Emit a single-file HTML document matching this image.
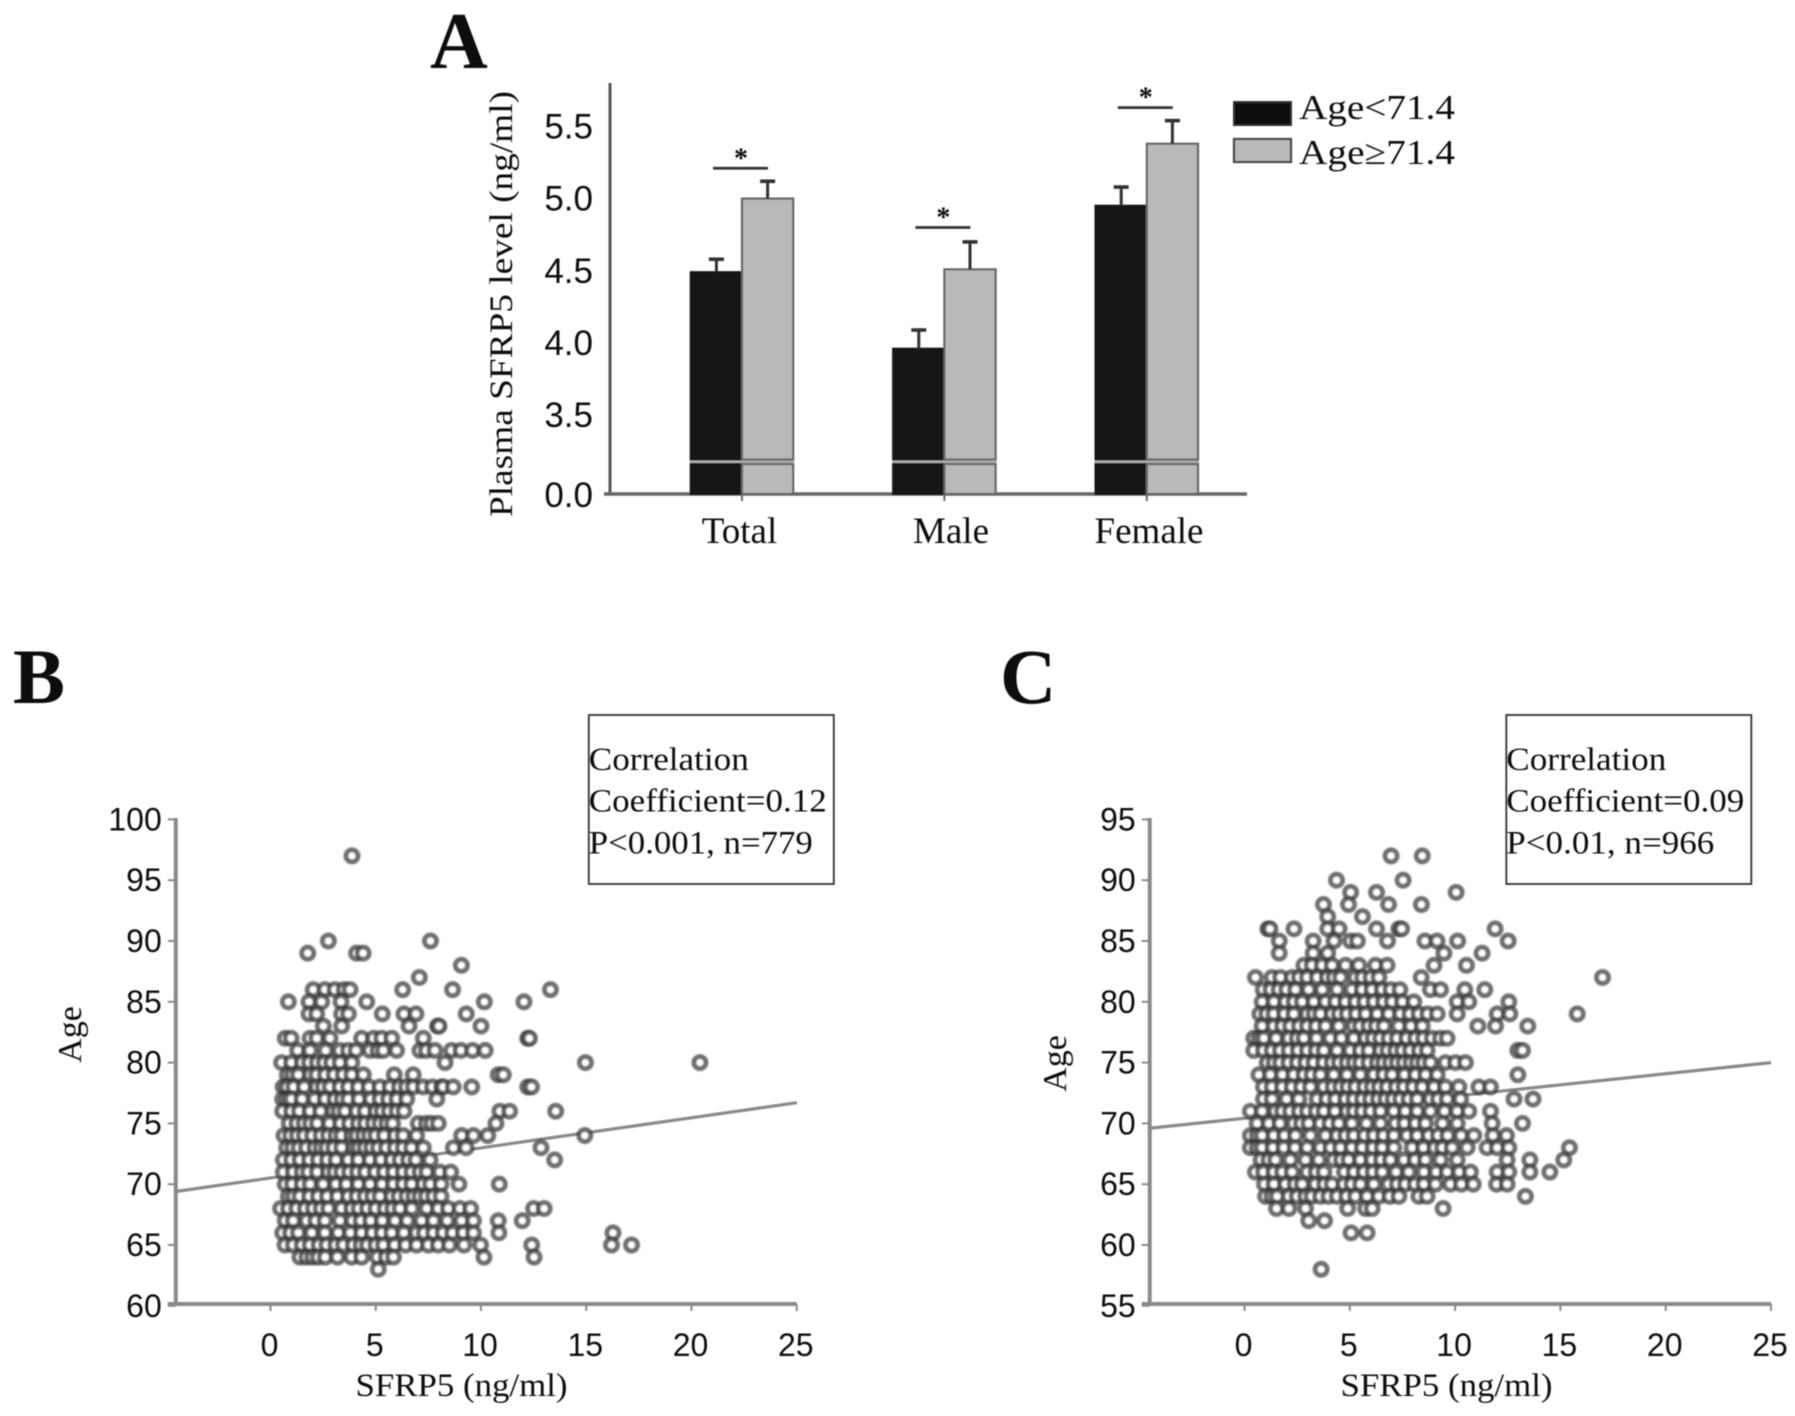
<!DOCTYPE html>
<html lang="en">
<head>
<meta charset="utf-8">
<title>Plasma SFRP5 level by age and correlation plots</title>
<style>
html,body{margin:0;padding:0;background:#fff;}
svg{display:block;}
text{font-family:"Liberation Serif",serif;fill:#111;}
.sans{font-family:"Liberation Sans",sans-serif;fill:#111;}
</style>
</head>
<body>
<svg id="figure" xmlns="http://www.w3.org/2000/svg" width="1795" height="1416" viewBox="0 0 1795 1416">
<defs>
<filter id="soft" x="-2%" y="-2%" width="104%" height="104%"><feGaussianBlur stdDeviation="0.6"/></filter>
<filter id="softer" x="-2%" y="-2%" width="104%" height="104%"><feGaussianBlur stdDeviation="0.9"/></filter>
</defs>
<g id="root" filter="url(#soft)"></g>
</svg>
<script>
// Panel A data
const barCategories = ['Total', 'Male', 'Female'];
const youngMeans = [4.49, 3.96, 4.95];
const oldMeans = [5.0, 4.51, 5.38];
const youngErrorTops = [4.58, 4.09, 5.08];
const oldErrorTops = [5.12, 4.70, 5.54];
const significanceLevels = [5.21, 4.80, 5.63];
const barTicks = [5.5, 5.0, 4.5, 4.0, 3.5];
const barZeroTick = 0.0;

// Panel B data: one list of SFRP5 values per age row
const panelBAges = [97,90,89,88,87,86,85,84,83,82,81,80,79,78,77,76,75,74,73,72,71,70,69,68,67,66,65,64,63];
const panelBSfrp5 = [
[3.87],
[2.75,7.6],
[1.77,4.09,4.4],
[9.07],
[7.07],
[2.03,2.59,3.06,3.5,3.78,6.28,8.65,13.3],
[.85,1.83,2.43,3.35,4.57,10.16,12.04],
[1.83,2.19,3.38,3.7,5.31,6.34,6.91,9.3],
[2.51,3.38,6.58,7.94,8.0,10.0],
[.7,.98,1.88,2.2,2.83,4.33,4.9,5.28,5.76,7.26,12.22,12.3],
[1.29,1.88,2.62,3.3,3.7,4.06,4.73,5.1,5.36,5.99,7.1,7.4,7.81,8.6,9.05,9.6,10.2],
[.53,1.0,1.51,1.85,2.22,2.55,2.9,3.3,3.86,8.29,14.96,20.4],
[.8,1.05,1.32,1.9,2.19,2.6,3.02,3.45,3.86,4.41,5.88,6.78,10.82,11.06],
[.6,.8,1.1,1.6,2.2,2.5,2.83,3.3,3.7,4.17,4.68,5.2,5.68,6.12,6.45,6.78,7.26,7.69,8.13,8.2,8.68,9.56,12.22,12.4],
[.58,.8,1.0,1.5,2.1,2.6,3.06,3.4,3.7,4.2,4.77,5.2,5.6,6.0,6.47,7.9],
[.58,1,1.37,1.88,2.38,2.98,3.25,3.54,4.09,4.49,5,5.3,5.64,6,6.34,10.9,11.36,13.55],
[.89,1.25,1.59,1.9,2.22,2.8,3.33,3.75,4.17,4.5,4.88,5.2,5.52,5.8,7.02,7.4,7.66,7.97,10.71],
[.64,.95,1.27,1.6,1.99,2.4,2.75,3.1,3.38,3.86,4.1,4.41,4.7,5,5.4,5.92,6.3,6.94,9.08,9.64,10.32,14.93],
[.77,1.05,1.35,1.7,2.11,2.4,2.67,3,3.38,3.97,4.2,4.49,4.8,5.12,5.5,5.92,6.3,6.7,7.26,8.69,9.29,12.85],
[.61,1,1.4,1.85,2.27,2.7,3.11,3.7,4.17,4.73,5.25,5.76,6.15,6.55,6.9,7.58,13.5],
[.61,1.08,1.5,1.8,2.22,2.75,3.05,3.38,3.75,4.13,4.5,4.97,5.4,5.84,6.3,6.71,7.1,7.42,8.05,8.56],
[.7,1.04,1.5,1.88,2.5,3.11,3.6,4.17,4.73,5.3,5.84,6.3,6.71,7.26,7.6,8.1,8.95,10.87],
[.85,1.1,1.4,1.85,2.27,2.7,3.18,3.7,4.1,4.49,4.85,5.2,5.76,6.1,6.47,6.8,7.1,7.4,7.74,8.1],
[.48,.85,1.24,1.65,2.03,2.4,2.75,3.38,3.86,4.2,4.6,5,5.44,5.8,6.15,6.71,7.42,7.97,8.45,9,9.51,12.5,13.0],
[.7,1.08,1.72,2.15,2.59,3.3,3.9,4.3,4.76,5.31,5.92,6.5,7.18,7.74,8.4,9.08,9.64,10.82,11.96],
[.58,.95,1.32,1.96,2.59,3.22,3.8,4.33,4.84,5.3,5.76,6.34,6.94,7.3,7.74,8.2,8.65,9.16,9.64,10.85,16.27],
[.69,1.08,1.5,1.88,2.3,2.67,3.1,3.46,3.93,4.3,4.6,5,5.36,5.9,6.42,6.94,7.5,7.97,8.5,9.19,9.98,12.41,16.2,17.15],
[1.4,1.72,2,2.27,2.6,3.18,3.86,4.33,5.08,5.5,5.84,10.14,12.52],
[5.12]
];
const panelBFitAges = [69.4, 76.7];

// Panel C data: one list of SFRP5 values per age row
const panelCAges = [92,90,89,88,87,86,85,84,83,82,81,80,79,78,77,76,75,74,73,72,71,70,69,68,67,66,65,64,63,62,61,58];
const panelCSfrp5 = [
[6.96,8.44],
[4.37,7.53],
[5.04,6.27,10.05],
[3.75,4.94,6.84,8.4],
[3.95,5.6],
[1.11,1.21,2.35,3.95,4.49,6.27,7.33,7.46,11.9],
[1.65,3.26,4.25,5.04,5.36,6.79,8.57,9.14,10.12,12.52],
[1.65,3.26,3.95,9.47,11.28],
[2.82,3.21,3.69,4.16,4.8,5.43,6.22,6.77,9.0,10.54],
[.52,1.31,1.71,2.26,2.6,2.98,3.45,3.93,4.25,4.56,5.27,5.6,6.0,6.38,8.39,17.0],
[.89,1.25,1.63,2.0,2.42,3.05,3.69,4.4,5.1,5.59,6.05,6.54,6.95,7.38,8.83,9.31,10.46,11.41],
[.84,1.4,1.95,2.35,2.74,3.29,3.85,4.32,4.8,5.27,5.7,6.14,6.6,7.01,7.5,8.04,10.1,10.65,12.55],
[.73,1.05,1.39,1.9,2.34,2.98,3.3,3.61,4.16,4.5,4.87,5.3,5.75,6.3,6.85,7.41,7.85,8.28,8.7,9.15,10.1,12.0,12.6,15.8],
[.84,1.39,1.8,2.18,2.6,2.98,3.4,3.85,4.48,5.19,5.5,5.9,6.25,6.62,7.33,7.9,8.44,11.08,11.92,13.45],
[.44,.7,.92,1.5,2.11,2.5,2.82,3.42,4.08,4.6,5.19,5.75,6.1,6.46,6.85,7.25,7.7,8.12,8.5,8.91,9.3,9.62],
[.44,.9,1.31,1.7,2.11,2.55,2.98,3.4,3.77,4.4,5.03,5.5,5.9,6.46,6.8,7.17,7.5,7.88,8.3,8.67,12.98,13.2],
[1.08,1.4,1.71,2.1,2.5,2.9,3.29,3.75,4.16,4.5,4.87,5.2,5.51,5.9,6.3,6.6,6.93,7.25,7.57,7.9,8.2,8.5,8.83,9.54,10.02,10.49],
[.68,1.23,1.8,2.34,2.82,3.2,3.61,4.24,4.87,5.5,6.14,6.6,7.01,7.6,8.12,8.6,9.15,12.98],
[.9,1.31,1.8,2.26,2.7,3.13,3.77,4.2,4.56,4.9,5.27,5.7,6.06,6.4,6.77,7.2,7.57,8.0,8.44,9,9.54,10.18,11.13,11.68],
[.9,1.31,2,2.58,3.45,3.9,4.32,4.8,5.19,5.6,5.98,6.35,6.7,7.05,7.41,7.8,8.2,8.83,9.2,9.62,10.26,12.8,13.7],
[.28,.84,1.47,1.8,2.18,2.6,2.98,3.4,3.77,4.3,4.87,5.2,5.59,6,6.46,7.09,7.64,8.2,8.83,9.5,10.1,10.65,11.68],
[.6,1.16,1.68,2.34,2.7,3.05,3.61,4.05,4.48,5.1,5.79,6.46,7.17,7.6,8.12,8.59,9.4,10.1,11.76,13.2],
[.28,.6,.84,1.39,1.9,2.42,3.13,3.85,4.4,4.8,5.19,5.7,6.14,6.6,7.09,7.72,8.2,8.75,9.2,9.65,10.29,10.89,11.8,12.44],
[.28,.6,.84,1.35,1.87,2.4,2.98,3.61,4.1,4.56,5.1,5.59,6.1,6.54,7.09,7.96,8.5,9.04,9.4,9.86,10.57,11.52,12,12.55,15.43],
[.79,1.15,1.47,2.18,2.9,3.53,4.24,4.6,4.95,5.5,6.06,6.5,6.93,7.57,8.1,8.59,9.31,10.1,12.47,13.55,15.16],
[.52,.9,1.39,1.8,2.26,2.98,3.4,3.77,4.75,5.2,5.67,6.1,6.54,7.2,7.8,8.52,9.1,9.62,10.2,10.73,12,12.55,13.55,14.5],
[.95,1.4,1.95,2.4,2.74,3.37,3.8,4.16,4.72,5.1,5.51,6.14,6.85,7.25,7.64,8.1,8.52,9.07,9.78,10.3,10.86,11.97,12.47],
[1,1.3,1.55,2.11,2.5,2.9,3.2,3.61,4,4.4,4.85,5.27,5.82,6.38,6.9,7.33,8.28,8.67,13.34],
[1.52,2.11,2.9,4.9,5.75,6.06,9.43],
[3.05,3.8],
[5.06,5.82],
[3.64]
];
const panelCFitAges = [69.6, 75.0];

const scatterXTicks = [0, 5, 10, 15, 20, 25];
const panelBYTicks = [100, 95, 90, 85, 80, 75, 70, 65, 60];
const panelCYTicks = [95, 90, 85, 80, 75, 70, 65, 60, 55];
const fitXRange = [-4.5, 25];

const NS = 'http://www.w3.org/2000/svg';
const root = document.getElementById('root');

function mk(tag, name, attrs, parent) {
  const el = document.createElementNS(NS, tag);
  
  
  for (const k in attrs) el.setAttribute(k, attrs[k]);
  (parent || root).appendChild(el);
  return el;
}
function line(name, x1, y1, x2, y2, color, w, parent) {
  return mk('line', name, {x1: x1, y1: y1, x2: x2, y2: y2, stroke: color, 'stroke-width': w}, parent);
}
function label(name, str, x, y, size, anchor, opts, parent) {
  const a = Object.assign({x: x, y: y, 'font-size': size, 'text-anchor': anchor}, opts || {});
  const el = mk('text', name, a, parent);
  el.textContent = str;
  return el;
}

/* ---------- Panel A ---------- */
const barY = v => 198.6 + (5 - v) * 144.4;
const barBaseY = 494;
const breakTop = 459.5, breakBottom = 464;
const groupLeft = i => 690.8 + i * 202.4;
const barWidth = 51.2;

label('panel-a-letter', 'A', 430, 68, 80, 'start', {'font-weight': 'bold', fill: '#000'});

line('bar-y-axis', 610, 83, 610, barBaseY, '#555', 3);
line('bar-x-axis', 604, barBaseY, 1247, barBaseY, '#666', 3.5);
barTicks.forEach(t => {
  label('bar-y-tick-label', t.toFixed(1), 593, barY(t) + 12, 35, 'end', {class: 'sans'});
});
label('bar-y-tick-label', barZeroTick.toFixed(1), 593, barBaseY + 13, 35, 'end', {class: 'sans'});
label('bar-y-axis-title', 'Plasma SFRP5 level (ng/ml)', 0, 0, 33, 'middle',
  {transform: 'translate(512,304) rotate(-90)', textLength: 426, lengthAdjust: 'spacingAndGlyphs', fill: '#222'});

function drawBar(name, x, v, errTop, fill, edge) {
  const top = barY(v);
  mk('rect', name + '-upper', {x: x, y: top, width: barWidth, height: breakTop - top, fill: fill, stroke: edge, 'stroke-width': 2.2});
  mk('rect', name + '-lower', {x: x, y: breakBottom, width: barWidth, height: barBaseY - breakBottom, fill: fill, stroke: edge, 'stroke-width': 2.2});
  mk('rect', name + '-break', {x: x - 1, y: breakTop + 1, width: barWidth + 2, height: breakBottom - breakTop - 2, fill: '#aaa'});
  const cx = x + barWidth / 2;
  line(name + '-error-stem', cx, top, cx, barY(errTop), '#333', 3);
  line(name + '-error-cap', cx - 7.5, barY(errTop), cx + 7.5, barY(errTop), '#333', 3.6);
}
barCategories.forEach((cat, i) => {
  const x0 = groupLeft(i);
  drawBar('bar-young-' + cat.toLowerCase(), x0, youngMeans[i], youngErrorTops[i], '#141414', '#141414');
  drawBar('bar-old-' + cat.toLowerCase(), x0 + barWidth, oldMeans[i], oldErrorTops[i], '#b9b9b9', '#666');
  const mid = x0 + barWidth;
  line('bar-x-tick', mid, barBaseY, mid, barBaseY + 7, '#666', 2);
  const sy = barY(significanceLevels[i]);
  line('significance-line', mid - 29, sy, mid + 26, sy, '#333', 2.8);
  label('significance-star', '*', mid - 1, sy - 1, 28, 'middle', {fill: '#111', 'font-weight': 'bold'});
});
const catCenters = [739.5, 951, 1149];
barCategories.forEach((cat, i) => {
  label('bar-category-label', cat, catCenters[i], 543, 37, 'middle', {});
});

mk('rect', 'legend-swatch-young', {x: 1234, y: 102, width: 57, height: 23, fill: '#111', stroke: '#333', 'stroke-width': 2});
mk('rect', 'legend-swatch-old', {x: 1234, y: 139, width: 57, height: 23, fill: '#b9b9b9', stroke: '#444', 'stroke-width': 2.2});
label('legend-label-young', 'Age<71.4', 1299, 119, 35, 'start', {textLength: 156, lengthAdjust: 'spacingAndGlyphs'});
label('legend-label-old', 'Age≥71.4', 1299, 164, 35, 'start', {textLength: 156, lengthAdjust: 'spacingAndGlyphs'});

/* ---------- Scatter panels ---------- */
function drawScatter(cfg) {
  const xScale = v => cfg.x0 + cfg.xPerUnit * v;
  const yScale = a => 1305.8 - 12.16 * (a - cfg.yMin);
  const axisY = 1304;

  label(cfg.key + '-letter', cfg.letter, cfg.letterX, 703, 78, 'start', {'font-weight': 'bold', fill: '#000'});

  line(cfg.key + '-fit-line', xScale(fitXRange[0]), yScale(cfg.fit[0]), xScale(fitXRange[1]), yScale(cfg.fit[1]), '#8a8a8a', 3.2);

  const points = mk('g', cfg.key + '-points', {filter: 'url(#softer)'});
  cfg.ages.forEach((age, r) => {
    cfg.values[r].forEach(v => {
      mk('circle', cfg.key + '-point', {
        cx: xScale(v), cy: yScale(age), r: 6,
        fill: '#fff', stroke: '#2b2b2b', 'stroke-opacity': 0.7, 'stroke-width': 4.8
      }, points);
    });
  });

  const axisLeft = xScale(fitXRange[0]);
  line(cfg.key + '-y-axis', axisLeft, 818, axisLeft, axisY + 1, '#8a8a8a', 4);
  line(cfg.key + '-x-axis', axisLeft - 8, axisY, xScale(25), axisY, '#8a8a8a', 4);
  cfg.yTicks.forEach(t => {
    line(cfg.key + '-y-tick', axisLeft - 8, yScale(t), axisLeft, yScale(t), '#8a8a8a', 2);
    label(cfg.key + '-y-tick-label', String(t), axisLeft - 14, yScale(t) + 11, 32, 'end', {class: 'sans'});
  });
  scatterXTicks.forEach(t => {
    line(cfg.key + '-x-tick', xScale(t), axisY, xScale(t), axisY + 7, '#8a8a8a', 2);
    label(cfg.key + '-x-tick-label', String(t), xScale(t) - 1, 1356, 32, 'middle', {class: 'sans'});
  });
  label(cfg.key + '-x-axis-title', 'SFRP5 (ng/ml)', cfg.xTitleX, 1396, 33, 'middle', {textLength: 212, lengthAdjust: 'spacingAndGlyphs', fill: '#222'});
  label(cfg.key + '-y-axis-title', 'Age', 0, 0, 34, 'middle', {transform: 'translate(' + cfg.yTitleX + ',' + cfg.yTitleY + ') rotate(-90)', fill: '#222'});

  mk('rect', cfg.key + '-stats-box', {x: cfg.boxX, y: 715, width: cfg.boxW, height: 169, fill: 'none', stroke: '#333', 'stroke-width': 1.8});
  cfg.stats.forEach((s, i) => {
    label(cfg.key + '-stats-line', s, cfg.boxX, 770 + i * 41.7, 33, 'start', {textLength: cfg.statWidths[i], lengthAdjust: 'spacingAndGlyphs'});
  });
}

drawScatter({
  key: 'scatter-b', letter: 'B', letterX: 13, x0: 270.5, xPerUnit: 21.05, yMin: 60,
  ages: panelBAges, values: panelBSfrp5, fit: panelBFitAges, yTicks: panelBYTicks,
  xTitleX: 461.5, yTitleX: 81, yTitleY: 1034.5, boxX: 588.8, boxW: 245,
  stats: ['Correlation', 'Coefficient=0.12', 'P<0.001, n=779'],
  statWidths: [160, 238, 224]
});
drawScatter({
  key: 'scatter-c', letter: 'C', letterX: 1000, x0: 1244.5, xPerUnit: 21.06, yMin: 55,
  ages: panelCAges, values: panelCSfrp5, fit: panelCFitAges, yTicks: panelCYTicks,
  xTitleX: 1446.5, yTitleX: 1066, yTitleY: 1063.5, boxX: 1506.3, boxW: 245,
  stats: ['Correlation', 'Coefficient=0.09', 'P<0.01, n=966'],
  statWidths: [160, 238, 208]
});
</script>
</body>
</html>
